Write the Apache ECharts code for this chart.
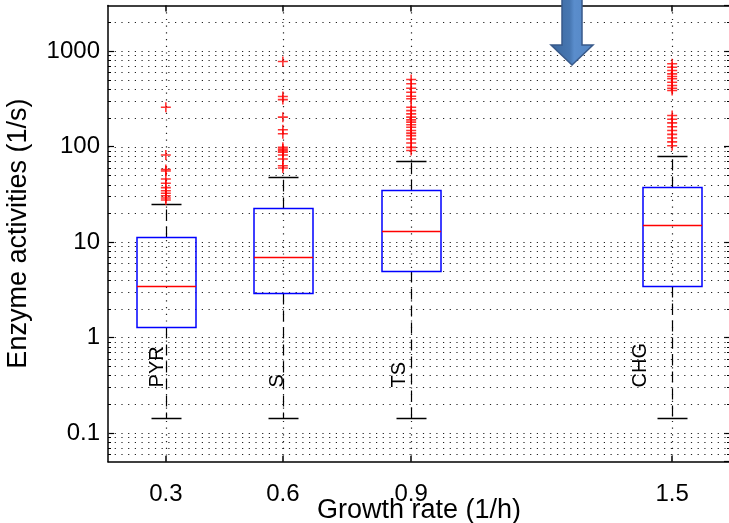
<!DOCTYPE html>
<html>
<head>
<meta charset="utf-8">
<script src="https://cdn.jsdelivr.net/npm/echarts@6/dist/echarts.min.js"></script>
<style>
  html, body { margin: 0; padding: 0; background: #fff; }
  #chart { width: 729px; height: 523px; }
</style>
</head>
<body>
<div id="chart"></div>
<script>
// conditions (box labels) and growth rate ticks
var categories = ['PYR', 'S', 'TS', 'CHG'];
var xTickLabels = ['0.3', '0.6', '0.9', '1.5'];
var xPositions = [0.333, 0.602, 0.897, 1.497];

// box statistics, enzyme activities (1/s)
var lowerWhisker = [0.144, 0.144, 0.144, 0.144];
var lowerQuartile = [1.29, 2.91, 5.0, 3.5];
var medians = [3.48, 7.05, 13.0, 15.0];
var upperQuartile = [11.3, 22.9, 35, 37.4];
var upperWhisker = [24.8, 47.6, 71, 80];

// outliers per condition
var outliersPYR = [258, 81.5, 57.5, 55.5, 45.7, 41.2, 37.1, 34.4, 32.4, 30.5, 28.9, 27.5];
var outliersS = [776, 334, 310, 203, 150, 136, 98, 94, 90, 87, 81.5, 74, 63, 59.6];
var outliersTS = [503, 454, 408, 370, 336, 316, 258, 238, 220, 203, 190, 180, 169, 159, 147, 138, 130, 120, 109, 98, 91];
var outliersCHG = [735, 677, 625, 577, 541, 512, 471, 435, 408, 386, 211, 193, 177, 161, 147, 134, 123, 112, 102];

var yMin = 0.05, yMax = 3000;
var xMin = 0.2, xMax = 1.63;

var FONT = '"Liberation Sans", Arial, sans-serif';

// log grid lines at 1..9 x 10^k
var gridValues = [];
for (var k = -2; k <= 3; k++) {
  for (var m = 1; m <= 9; m++) {
    var gv = +(m * Math.pow(10, k)).toPrecision(3);
    if (gv > yMin && gv < yMax) gridValues.push([gv, m === 1 ? 1 : 0]);
  }
}

var boxData = categories.map(function (c, i) {
  return [xPositions[i], lowerWhisker[i], lowerQuartile[i], medians[i], upperQuartile[i], upperWhisker[i], i];
});

var outlierSets = [outliersPYR, outliersS, outliersTS, outliersCHG];
var outlierData = [];
outlierSets.forEach(function (arr, i) {
  arr.forEach(function (v) { outlierData.push([xPositions[i], v]); });
});

var chart = echarts.init(document.getElementById('chart'));

function crisp(v) { return Math.round(v) + 0.5; }

function renderHGrid(params, api) {
  var cs = params.coordSys;
  var y = crisp(api.coord([xMin, api.value(0)])[1]);
  var children = [{
    type: 'line',
    shape: { x1: cs.x, y1: y, x2: cs.x + cs.width, y2: y },
    style: { stroke: '#222', lineWidth: 1.2, lineDash: [1.2, 5.5] }
  }];
  if (!api.value(1)) {
    children.push({ type: 'line', shape: { x1: cs.x, y1: y, x2: cs.x + 3, y2: y }, style: { stroke: '#000', lineWidth: 1 } });
    children.push({ type: 'line', shape: { x1: cs.x + cs.width - 3, y1: y, x2: cs.x + cs.width, y2: y }, style: { stroke: '#000', lineWidth: 1 } });
  }
  return { type: 'group', children: children };
}

function renderVGrid(params, api) {
  var cs = params.coordSys;
  var x = crisp(api.coord([api.value(0), 1])[0]);
  return {
    type: 'line',
    shape: { x1: x, y1: cs.y, x2: x, y2: cs.y + cs.height },
    style: { stroke: '#222', lineWidth: 1.2, lineDash: [1.2, 5.5] }
  };
}

var labelOffsetPx = [-9.5, -6.5, -12.5, -32];

function renderBox(params, api) {
  var x = api.value(0);
  var idx = api.value(6);
  var cx = crisp(api.coord([x, 1])[0]);
  var yLw = crisp(api.coord([x, api.value(1)])[1]);
  var yQ1 = crisp(api.coord([x, api.value(2)])[1]);
  var yMed = crisp(api.coord([x, api.value(3)])[1]);
  var yQ3 = crisp(api.coord([x, api.value(4)])[1]);
  var yUw = crisp(api.coord([x, api.value(5)])[1]);
  var yLab = api.coord([x, 0.3])[1];
  var half = 29.5, cap = 15;
  var dash = { stroke: '#000', lineWidth: 1.2, lineDash: [11, 6] };
  var solid = { stroke: '#000', lineWidth: 1.5 };
  return {
    type: 'group',
    children: [
      { type: 'line', shape: { x1: cx, y1: yQ3, x2: cx, y2: yUw }, style: dash },
      { type: 'line', shape: { x1: cx, y1: yQ1, x2: cx, y2: yLw }, style: dash },
      { type: 'line', shape: { x1: cx - cap, y1: yUw, x2: cx + cap, y2: yUw }, style: solid },
      { type: 'line', shape: { x1: cx - cap, y1: yLw, x2: cx + cap, y2: yLw }, style: solid },
      { type: 'rect', shape: { x: cx - half, y: yQ3, width: half * 2, height: yQ1 - yQ3 },
        style: { fill: 'none', stroke: '#0000ff', lineWidth: 1.5 } },
      { type: 'line', shape: { x1: cx - half, y1: yMed, x2: cx + half, y2: yMed },
        style: { stroke: '#ff0000', lineWidth: 1.5 } },
      { type: 'text', x: cx + labelOffsetPx[idx], y: yLab, rotation: Math.PI / 2,
        style: { text: categories[idx], fill: '#000', font: '20px ' + FONT, align: 'left', verticalAlign: 'middle' } }
    ]
  };
}

function yLabel(v) {
  var l = Math.log10(v);
  if (Math.abs(l - Math.round(l)) > 1e-6) return '';
  return String(Math.pow(10, Math.round(l)).toPrecision(1) * 1);
}

function xLabel(v) {
  var best = 0;
  xPositions.forEach(function (p, i) {
    if (Math.abs(p - v) < Math.abs(xPositions[best] - v)) best = i;
  });
  return xTickLabels[best];
}

var axisLineStyle = { color: '#000', width: 1.5 };

var option = {
  animation: false,
  backgroundColor: '#fff',
  grid: { left: 108, right: -1, top: 5.5, bottom: 61.3, containLabel: false, outerBoundsMode: 'none' },
  xAxis: [{
    type: 'value', min: xMin, max: xMax, position: 'bottom',
    axisLine: { onZero: false, lineStyle: axisLineStyle },
    axisTick: { inside: true, length: 6, customValues: xPositions, lineStyle: { color: '#000', width: 1.5 } },
    axisLabel: { customValues: xPositions, formatter: xLabel, fontSize: 24, color: '#000', fontFamily: FONT, margin: 21 },
    splitLine: { show: false },
    name: 'Growth rate (1/h)', nameLocation: 'middle', nameGap: 35, nameMoveOverlap: false,
    nameTextStyle: { fontSize: 27, color: '#000', fontFamily: FONT }
  }, {
    type: 'value', min: xMin, max: xMax, position: 'top',
    axisLine: { onZero: false, lineStyle: axisLineStyle },
    axisTick: { inside: true, length: 6, customValues: xPositions, lineStyle: { color: '#000', width: 1.5 } },
    axisLabel: { show: false },
    splitLine: { show: false }
  }],
  yAxis: [{
    type: 'log', logBase: 10, min: yMin, max: yMax, position: 'left',
    axisLine: { show: true, onZero: false, lineStyle: axisLineStyle },
    axisTick: { show: true, inside: true, length: 6, lineStyle: { color: '#000', width: 1.2 } },
    axisLabel: { formatter: yLabel, showMinLabel: false, showMaxLabel: false, fontSize: 24, color: '#000', fontFamily: FONT, margin: 8 },
    splitLine: { show: false },
    name: 'Enzyme activities (1/s)', nameLocation: 'middle', nameGap: 76, nameMoveOverlap: false,
    nameTextStyle: { fontSize: 27, color: '#000', fontFamily: FONT }
  }, {
    type: 'log', logBase: 10, min: yMin, max: yMax, position: 'right',
    axisLine: { show: true, onZero: false, lineStyle: axisLineStyle },
    axisTick: { show: true, inside: true, length: 6, lineStyle: { color: '#000', width: 1.2 } },
    axisLabel: { show: false },
    splitLine: { show: false }
  }],
  series: [{
    type: 'custom', name: 'hgrid', renderItem: renderHGrid, data: gridValues,
    encode: { y: 0 }, silent: true, z: 1
  }, {
    type: 'custom', name: 'vgrid', renderItem: renderVGrid, data: xPositions.map(function (p) { return [p]; }),
    encode: { x: 0 }, silent: true, z: 1
  }, {
    type: 'custom', name: 'boxes', renderItem: renderBox, data: boxData,
    encode: { x: 0, y: [1, 2, 3, 4, 5] }, z: 3
  }, {
    type: 'scatter', name: 'outliers', data: outlierData,
    symbol: 'path://M4.2,0H5.8V4.2H10V5.8H5.8V10H4.2V5.8H0V4.2H4.2Z',
    symbolSize: 10, itemStyle: { color: '#ff0000' }, z: 4
  }],
  graphic: [{
    type: 'polygon', z: 100,
    shape: { points: [[562, -2], [582, -2], [582, 45], [593, 45], [572, 65], [551, 45], [562, 45]] },
    style: {
      fill: new echarts.graphic.LinearGradient(0, 0, 1, 0, [
        { offset: 0, color: '#3b679d' },
        { offset: 0.45, color: '#4777b2' },
        { offset: 0.55, color: '#5a8dcc' },
        { offset: 0.9, color: '#5688c6' },
        { offset: 1, color: '#3b679d' }
      ]),
      stroke: '#38598a', lineWidth: 1.5
    }
  }]
};

chart.setOption(option);
</script>
</body>
</html>
